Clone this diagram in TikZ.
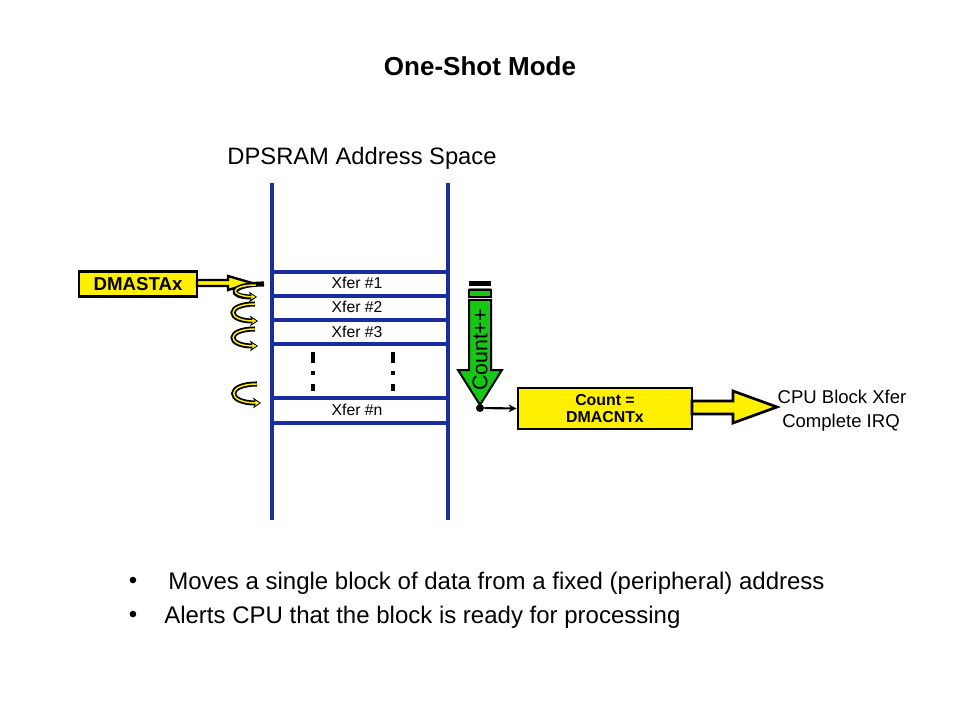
\documentclass[tikz,border=0pt]{standalone}
\usepackage{fontspec}
\setmainfont{Liberation Sans}
\usetikzlibrary{arrows.meta}
\definecolor{myblue}{RGB}{25,45,160}
\definecolor{myyellow}{RGB}{255,240,0}
\definecolor{mygreen}{RGB}{20,200,20}
\begin{document}
\begin{tikzpicture}[x=0.75pt,y=-0.75pt,
  bl/.style={myblue,line width=2.5pt},
  xf/.style={font=\fontsize{11.8}{13}\selectfont},
  big/.style={font=\fontsize{17.8}{20}\selectfont},
  bul/.style={font=\fontsize{18}{20}\selectfont},
  rt/.style={font=\fontsize{13.9}{16}\selectfont},
  ybox/.style={draw=black,fill=myyellow,line width=2pt,inner sep=0pt},
  blockarrow/.style={fill=myyellow,draw=black,line width=1.8pt,line join=miter},
  curlb/.style={black,line width=3.8pt,-{Stealth[length=6pt,width=8pt]}},
  curly/.style={myyellow,line width=1.1pt,shorten >=1.2pt,-{Stealth[length=3.5pt,width=4pt]}},
  dashbar/.style={black,line width=2.8pt}]
\useasboundingbox (0,0) rectangle (960,720);

% title
\node[font=\bfseries\fontsize{19.5}{22}\selectfont] (title) at (480,66) {One-Shot Mode};
\node[big] (dpsram) at (362,158) {DPSRAM Address Space};

% memory column
\draw[bl] (272,183) -- (272,520);
\draw[bl] (448,183) -- (448,520);
\foreach \yy in {272,296,320,344,398,423} {\draw[bl] (272,\yy) -- (448,\yy);}
\node[xf] (x1) at (357,283) {Xfer \#1};
\node[xf] (x2) at (357,307) {Xfer \#2};
\node[xf] (x3) at (357,332) {Xfer \#3};
\node[xf] (xn) at (357,410) {Xfer \#n};
\foreach \xx in {313,393} {
  \draw[dashbar] (\xx,352) -- (\xx,363);
  \draw[dashbar] (\xx,371) -- (\xx,375);
  \draw[dashbar] (\xx,384) -- (\xx,391);
}

% DMASTAx
\node[ybox,minimum width=88.5pt,minimum height=18.5pt,font=\bfseries\fontsize{14}{15}\selectfont] (dma) at (138,284) {DMASTAx};
\filldraw[blockarrow] (197,280) -- (228,280) -- (228,276) -- (252,283) -- (228,290) -- (228,286) -- (197,286) -- cycle;

% curly arrows
\draw[curlb] (264,284) .. controls (230,284) and (226,297) .. (257,297);
\draw[curly] (256,285) .. controls (230,285) and (228,296) .. (257,297);
\draw[curlb] (255,304) .. controls (226,304) and (226,321) .. (258,321);
\draw[curly] (255,304) .. controls (226,304) and (226,321) .. (258,321);
\draw[curlb] (255,329) .. controls (226,329) and (226,346) .. (258,346);
\draw[curly] (255,329) .. controls (226,329) and (226,346) .. (258,346);
\draw[curlb] (257,384) .. controls (226,384) and (226,403) .. (261,403);
\draw[curly] (257,384) .. controls (226,384) and (226,403) .. (261,403);

% green count arrow
\fill[black] (469,281) rectangle (491,286);
\draw[gray,line width=0.6pt] (469,288) -- (491,288);
\filldraw[fill=mygreen,draw=black,line width=1.2pt] (469,290) rectangle (491,297);
\filldraw[fill=mygreen,draw=black,line width=1.5pt,line join=miter] (469,300) -- (491,300) -- (491,370) -- (502,370) -- (480,405) -- (458,370) -- (469,370) -- cycle;
\node[rotate=90,font=\fontsize{16}{18}\selectfont] (cnt) at (480,350) {Count++};

% count box
\node[circle,fill=black,inner sep=0pt,minimum size=6pt] (dot) at (480,408) {};
\node[ybox,line width=2.2pt,minimum width=130.5pt,minimum height=30.75pt,align=center,font=\bfseries\fontsize{11.9}{13}\selectfont] (cbox) at (605,408.5) {Count =\\DMACNTx};
\draw[black,line width=1.6pt,-{Stealth[length=6pt,width=6pt]}] (dot) -- (cbox.west);
\filldraw[blockarrow,line width=2pt] (692,401) -- (733,401) -- (733,391) -- (777,407) -- (733,423) -- (733,414) -- (692,414) -- cycle;
\node[rt] (cpu1) at (842,397) {CPU Block Xfer};
\node[rt] (cpu2) at (841,423) {Complete IRQ};

% bullets
\node[bul] (d1) at (133,583) {\textbullet};
\node[bul,anchor=west,inner sep=0pt] (b1) at (168,583) {Moves a single block of data from a fixed (peripheral) address};
\node[bul] (d2) at (133,617) {\textbullet};
\node[bul,anchor=west,inner sep=0pt] (b2) at (164,617) {Alerts CPU that the block is ready for processing};
\end{tikzpicture}
\end{document}
